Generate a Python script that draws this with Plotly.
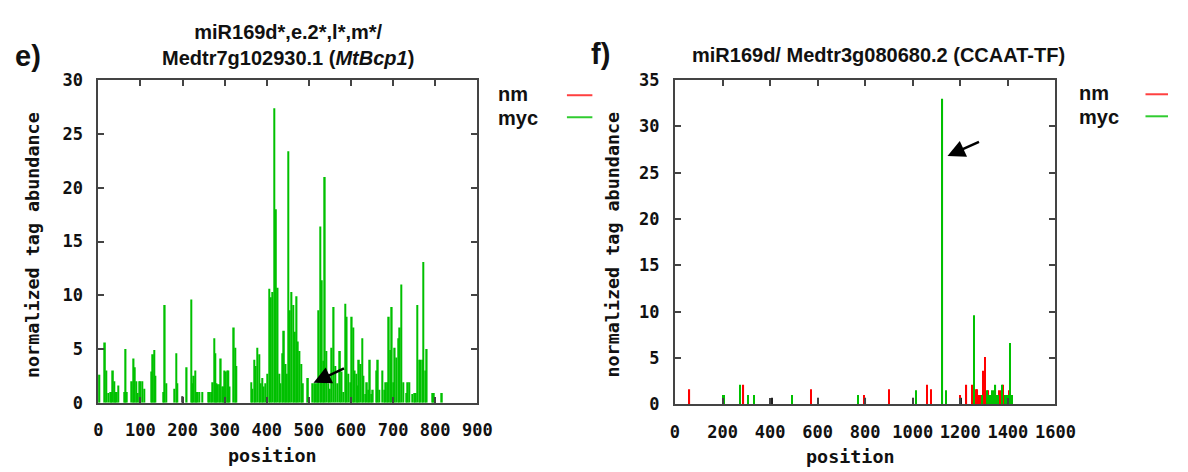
import plotly.graph_objects as go

# ---------------- data: panel e ----------------
e_myc_pos = [0, 2, 16, 19, 24, 28, 31, 35, 38, 41, 44, 47, 62, 65, 68, 80, 84, 87, 90, 94,
             97, 100, 104, 109, 127, 130, 133, 136, 155, 158, 161, 180, 185, 188, 210, 221,
             224, 227, 230, 233, 236, 240, 247, 262, 265, 268, 272, 275, 278, 281, 284, 288,
             291, 294, 297, 300, 303, 306, 309, 312, 322, 325, 328, 363, 366, 370, 374, 378,
             382, 386, 390, 393, 397, 401, 406, 410, 414, 418, 422, 426, 430, 433, 437, 441,
             445, 448, 451, 455, 459, 463, 467, 471, 474, 478, 482, 486, 498, 509, 513, 517,
             521, 523, 527, 531, 535, 538, 542, 546, 550, 554, 559, 563, 567, 574, 578, 582,
             586, 590, 594, 598, 602, 606, 609, 613, 616, 619, 623, 627, 630, 634, 638, 642,
             645, 648, 652, 660, 664, 667, 675, 679, 683, 687, 690, 693, 697, 701, 704, 708,
             712, 716, 720, 724, 731, 735, 738, 746, 750, 754, 758, 762, 765, 769, 772, 776,
             780, 794, 797, 816]
e_myc_val = [2.6, 2.6, 5.6, 3.0, 0.9, 1.0, 1.0, 3.0, 2.0, 1.0, 1.0, 1.6, 1.0, 5.0, 1.0, 2.0, 4.1, 3.3, 2.0, 0.9,
             2.0, 2.0, 2.0, 1.3, 2.9, 4.5, 4.9, 2.5, 1.0, 9.1, 1.8, 1.3, 4.6, 1.8, 3.3, 9.6,
             1.8, 2.5, 3.0, 1.0, 1.0, 1.0, 1.0, 1.0, 1.0, 1.0, 1.9, 6.0, 4.6, 1.8, 1.7, 1.7,
             4.1, 1.5, 1.5, 3.0, 2.9, 3.0, 3.0, 1.5, 7.0, 5.1, 3.4, 1.9, 1.3, 4.0, 3.4, 5.1,
             4.5, 1.8, 2.3, 1.5, 1.8, 2.7, 10.6, 9.8, 10.3, 27.4, 18.0, 10.7, 2.7, 1.8, 4.6, 6.7,
             3.6, 2.7, 23.4, 8.6, 10.3, 9.1, 6.6, 9.9, 5.7, 4.8, 3.6, 1.8, 2.3, 1.8, 1.8, 1.8,
             1.8, 8.6, 16.4, 11.4, 3.9, 21.0, 4.8, 1.8, 1.3, 5.1, 8.9, 3.4, 1.8, 4.8, 2.9, 1.0,
             9.2, 8.0, 2.7, 1.9, 8.0, 7.0, 3.0, 2.7, 1.6, 4.0, 3.6, 6.0, 2.5, 0.8, 1.9, 1.2,
             4.0, 0.8, 1.2, 3.0, 4.0, 1.2, 3.0, 1.2, 1.9, 1.9, 8.0, 4.9, 8.9, 1.9, 5.1, 4.2,
             6.0, 7.0, 11.0, 1.9, 0.9, 1.9, 1.9, 0.8, 0.9, 0.9, 9.1, 4.0, 4.0, 4.0, 13.1, 3.0,
             5.0, 0.9, 0.9, 0.9]
e_other_pos = [200]
e_other_val = [0.6]

# ---------------- data: panel f ----------------
f_nm_pos = [61, 288, 572, 795, 901, 1059, 1075, 1199, 1226, 1251, 1265, 1272, 1278, 1285,
            1296, 1303, 1318, 1364, 1370, 1381, 1398, 1404]
f_nm_val = [1.6, 2.1, 1.6, 1.0, 1.6, 2.1, 1.6, 1.0, 2.1, 2.1, 1.6, 1.6, 1.0, 1.0,
            3.6, 5.1, 1.5, 1.5, 1.5, 2.1, 1.0, 1.5]
f_myc_pos = [201, 206, 273, 307, 334, 492, 769, 1013, 1125, 1141, 1258, 1292, 1313, 1323,
             1328, 1333, 1340, 1344, 1348, 1354, 1358, 1376, 1388, 1394, 1400, 1406, 1410,
             1415, 1419]
f_myc_val = [1.0, 1.0, 2.1, 1.0, 1.0, 1.0, 1.0, 1.5, 33.0, 1.5, 9.6, 1.0, 1.5, 1.0,
             1.0, 1.5, 1.5, 1.0, 2.1, 1.0, 1.0, 2.1, 1.0, 1.0, 1.0, 1.0, 6.6,
             1.0, 1.0]
f_other_pos = [407, 603, 801, 1000, 1203]
f_other_val = [0.7, 0.7, 0.7, 0.7, 0.7]

e_xticks = list(range(0, 901, 100))
f_xticks = list(range(0, 1601, 200))

RED = "#ff0000"
GREEN = "#00c000"
DARK = "#202020"
W, H = 1188, 472


def fx(px):
    return px / W


def fy(py):
    return 1 - py / H


fig = go.Figure()
fig.add_trace(go.Bar(x=e_other_pos, y=e_other_val, width=3.5, marker=dict(color=DARK, line=dict(width=0)),
                     xaxis="x", yaxis="y", showlegend=False))
fig.add_trace(go.Bar(x=e_myc_pos, y=e_myc_val, width=3.6, marker=dict(color=GREEN, line=dict(width=0)),
                     xaxis="x", yaxis="y", name="myc", showlegend=False))
fig.add_trace(go.Bar(x=f_other_pos, y=f_other_val, width=5, marker=dict(color=DARK, line=dict(width=0)),
                     xaxis="x2", yaxis="y2", showlegend=False))
fig.add_trace(go.Bar(x=f_nm_pos, y=f_nm_val, width=5, marker=dict(color=RED, line=dict(width=0)),
                     xaxis="x2", yaxis="y2", name="nm", showlegend=False))
fig.add_trace(go.Bar(x=f_myc_pos, y=f_myc_val, width=5, marker=dict(color=GREEN, line=dict(width=0)),
                     xaxis="x2", yaxis="y2", name="myc", showlegend=False))

tickfont = dict(family="DejaVu Sans Mono", size=17, color="#111111", weight="bold")
axis_common = dict(showgrid=False, zeroline=False, showline=True, linecolor="#444444", linewidth=2,
                   mirror="ticks", ticks="inside", ticklen=6, tickwidth=1.5, tickcolor="#444444",
                   tickfont=tickfont, fixedrange=True)

fig.update_layout(
    width=W, height=H, autosize=False,
    margin=dict(l=0, r=0, t=0, b=0),
    paper_bgcolor="white", plot_bgcolor="white",
    barmode="overlay",
    showlegend=False,
    xaxis=dict(domain=[fx(95.3), fx(482.5)], range=[0, 900], tickvals=e_xticks, anchor="y",
               ticklabelstandoff=11, **axis_common),
    yaxis=dict(domain=[fy(410), fy(73.5)], range=[0, 30], dtick=5, anchor="x",
               ticklabelstandoff=10, **axis_common),
    xaxis2=dict(domain=[fx(684.4), fx(1073)], range=[0, 1600], tickvals=f_xticks, anchor="y2",
                ticklabelstandoff=11, **axis_common),
    yaxis2=dict(domain=[fy(411.6), fy(73.3)], range=[0, 35], dtick=5, anchor="x2",
                ticklabelstandoff=10, **axis_common),
)

title_font = dict(family="Liberation Sans", size=20, color="#111111", weight="bold")
label_font = dict(family="DejaVu Sans Mono", size=18.4, color="#111111", weight="bold")
legend_font = dict(family="Liberation Sans", size=20, color="#111111", weight="bold")
big_font = dict(family="Liberation Sans", size=29, color="#111111", weight="bold")

ann = []
ann.append(dict(text="miR169d*,e.2*,l*,m*/<br>Medtr7g102930.1 (<i>MtBcp1</i>)", x=fx(289), y=fy(37),
                xref="paper", yref="paper", showarrow=False, font=title_font, xanchor="center", yanchor="middle"))
ann.append(dict(text="e)", x=fx(8), y=fy(48), xref="paper", yref="paper", showarrow=False,
                font=big_font, xanchor="left", yanchor="middle"))
ann.append(dict(text="miR169d/ Medtr3g080680.2 (CCAAT-TF)", x=fx(892), y=fy(47),
                xref="paper", yref="paper", showarrow=False, font=title_font, xanchor="center", yanchor="middle"))
ann.append(dict(text="f)", x=fx(597), y=fy(46), xref="paper", yref="paper", showarrow=False,
                font=big_font, xanchor="left", yanchor="middle"))
for xc in (28, 621):
    ann.append(dict(text="normalized tag abundance", x=fx(xc), y=fy(245), xref="paper", yref="paper",
                    showarrow=False, textangle=-90, font=label_font, xanchor="center", yanchor="middle"))
ann.append(dict(text="position", x=fx(273), y=fy(465), xref="paper", yref="paper", showarrow=False,
                font=label_font, xanchor="center", yanchor="middle"))
ann.append(dict(text="position", x=fx(864), y=fy(466), xref="paper", yref="paper", showarrow=False,
                font=label_font, xanchor="center", yanchor="middle"))
for (lx, ymid) in ((503, 100), (1096, 99)):
    ann.append(dict(text="nm", x=fx(lx), y=fy(ymid), xref="paper", yref="paper", showarrow=False,
                    font=legend_font, xanchor="left", yanchor="bottom", borderpad=0))
    ann.append(dict(text="myc", x=fx(lx), y=fy(ymid), xref="paper", yref="paper", showarrow=False,
                    font=legend_font, xanchor="left", yanchor="top", borderpad=0))
# arrows
ann.append(dict(text="", x=511, y=1.85, xref="x", yref="y", ax=32, ay=-15, showarrow=True,
                arrowhead=2, arrowsize=1.4, arrowwidth=2.5, arrowcolor="#000000", standoff=0))
ann.append(dict(text="", x=1146, y=26.8, xref="x2", yref="y2", ax=33, ay=-15, showarrow=True,
                arrowhead=2, arrowsize=1.4, arrowwidth=2.5, arrowcolor="#000000", standoff=0))
fig.update_layout(annotations=ann)

shapes = []
for (x0, x1, y1, y2) in ((574, 600, 89, 112), (1165, 1188, 88, 111)):
    shapes.append(dict(type="line", xref="paper", yref="paper", x0=fx(x0), x1=fx(x1), y0=fy(y1), y1=fy(y1),
                       line=dict(color="#ff4040", width=2)))
    shapes.append(dict(type="line", xref="paper", yref="paper", x0=fx(x0), x1=fx(x1), y0=fy(y2), y1=fy(y2),
                       line=dict(color="#30cc30", width=2)))
fig.update_layout(shapes=shapes)

fig.write_html("out.html")
